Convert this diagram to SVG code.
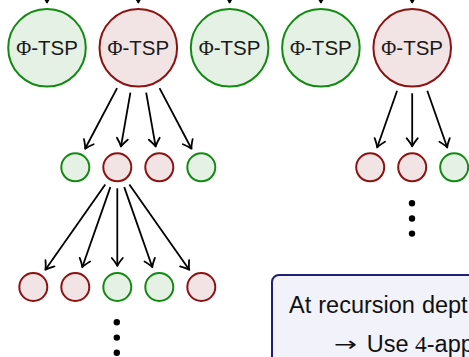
<svg xmlns="http://www.w3.org/2000/svg" width="469" height="357" viewBox="0 0 469 357">
<style>
.g{fill:#e5f1e5;stroke:#128a12;stroke-width:2}
.r{fill:#f2e4e4;stroke:#8c1212;stroke-width:2}
.lbl{font-family:"Liberation Sans",Arial,sans-serif;font-size:20.5px;fill:#1a1a1a;text-anchor:middle}
.phi{font-family:"Liberation Serif","Times New Roman",serif}
.edge{stroke:#000;stroke-width:1.8;fill:none;marker-end:url(#ah)}
.dot{fill:#000}
.box{fill:#f2f2fa;stroke:#1f1f7a;stroke-width:2}
.bt{font-family:"Liberation Sans",Arial,sans-serif;font-size:23.5px;fill:#111}
</style>
<defs>
<marker id="ah" markerUnits="userSpaceOnUse" markerWidth="16" markerHeight="16" refX="0" refY="0" viewBox="-9 -8 11 16" orient="auto" overflow="visible">
<path d="M-8,-5.5 Q-3,-1.3 0,0 Q-3,1.3 -8,5.5" fill="none" stroke="#000" stroke-width="1.8" stroke-linecap="round" stroke-linejoin="round"/>
</marker>
</defs>
<g id="connectors">
<line class="edge" x1="47" y1="-12" x2="47" y2="2.5"/>
<line class="edge" x1="138.3" y1="-12" x2="138.3" y2="2.5"/>
<line class="edge" x1="229.6" y1="-12" x2="229.6" y2="2.5"/>
<line class="edge" x1="320.9" y1="-12" x2="320.9" y2="2.5"/>
<line class="edge" x1="412.2" y1="-12" x2="412.2" y2="2.5"/>
<line class="edge" x1="117.08" y1="88.05" x2="85.09" y2="148.72"/>
<line class="edge" x1="130.42" y1="92.61" x2="120.94" y2="146.62"/>
<line class="edge" x1="146.18" y1="92.61" x2="155.66" y2="146.62"/>
<line class="edge" x1="159.52" y1="88.05" x2="191.51" y2="148.72"/>
<line class="edge" x1="397.11" y1="90.72" x2="377.16" y2="147.49"/>
<line class="edge" x1="412.2" y1="93.3" x2="412.2" y2="146.3"/>
<line class="edge" x1="427.29" y1="90.72" x2="447.24" y2="147.49"/>
<line class="edge" x1="105.24" y1="184.49" x2="45.36" y2="269.81"/>
<line class="edge" x1="110.35" y1="187.12" x2="82.25" y2="267.18"/>
<line class="edge" x1="117.3" y1="188.3" x2="117.3" y2="266"/>
<line class="edge" x1="124.25" y1="187.12" x2="152.35" y2="267.18"/>
<line class="edge" x1="129.36" y1="184.49" x2="189.24" y2="269.81"/>
</g>
<g id="top1"><circle class="g" cx="47" cy="47.8" r="38.8"/><text class="lbl" x="47" y="55.2"><tspan class="phi">Φ</tspan>-TSP</text></g>
<g id="top2"><circle class="r" cx="138.3" cy="47.8" r="38.8"/><text class="lbl" x="138.3" y="55.2"><tspan class="phi">Φ</tspan>-TSP</text></g>
<g id="top3"><circle class="g" cx="229.6" cy="47.8" r="38.8"/><text class="lbl" x="229.6" y="55.2"><tspan class="phi">Φ</tspan>-TSP</text></g>
<g id="top4"><circle class="g" cx="320.9" cy="47.8" r="38.8"/><text class="lbl" x="320.9" y="55.2"><tspan class="phi">Φ</tspan>-TSP</text></g>
<g id="top5"><circle class="r" cx="412.2" cy="47.8" r="38.8"/><text class="lbl" x="412.2" y="55.2"><tspan class="phi">Φ</tspan>-TSP</text></g>
<g id="mid1"><circle class="g" cx="75.3" cy="167.3" r="14"/></g>
<g id="mid2"><circle class="r" cx="117.3" cy="167.3" r="14"/></g>
<g id="mid3"><circle class="r" cx="159.3" cy="167.3" r="14"/></g>
<g id="mid4"><circle class="g" cx="201.3" cy="167.3" r="14"/></g>
<g id="rmid1"><circle class="r" cx="370.2" cy="167.3" r="14"/></g>
<g id="rmid2"><circle class="r" cx="412.2" cy="167.3" r="14"/></g>
<g id="rmid3"><circle class="g" cx="454.2" cy="167.3" r="14"/></g>
<g id="bot1"><circle class="r" cx="33.3" cy="287" r="14"/></g>
<g id="bot2"><circle class="r" cx="75.3" cy="287" r="14"/></g>
<g id="bot3"><circle class="g" cx="117.3" cy="287" r="14"/></g>
<g id="bot4"><circle class="g" cx="159.3" cy="287" r="14"/></g>
<g id="bot5"><circle class="r" cx="201.3" cy="287" r="14"/></g>
<g id="dots-left"><circle class="dot" cx="116.8" cy="322.3" r="3.2"/><circle class="dot" cx="116.8" cy="337.6" r="3.2"/><circle class="dot" cx="116.8" cy="352.8" r="3.2"/></g>
<g id="dots-right"><circle class="dot" cx="412" cy="203.3" r="3.2"/><circle class="dot" cx="412" cy="218.5" r="3.2"/><circle class="dot" cx="412" cy="233.6" r="3.2"/></g>
<g id="note">
<rect class="box" x="272" y="275" width="230" height="120" rx="7"/>
<text class="bt" x="289" y="313.3" word-spacing="0.5">At recursion dept</text>
<text x="334" y="351" font-family="'DejaVu Sans',sans-serif" font-size="20" fill="#111" textLength="23" lengthAdjust="spacingAndGlyphs">→</text>
<text class="bt" y="351.7"><tspan x="366.7">Use </tspan><tspan class="phi">4</tspan><tspan>-app</tspan></text>
</g>
</svg>
